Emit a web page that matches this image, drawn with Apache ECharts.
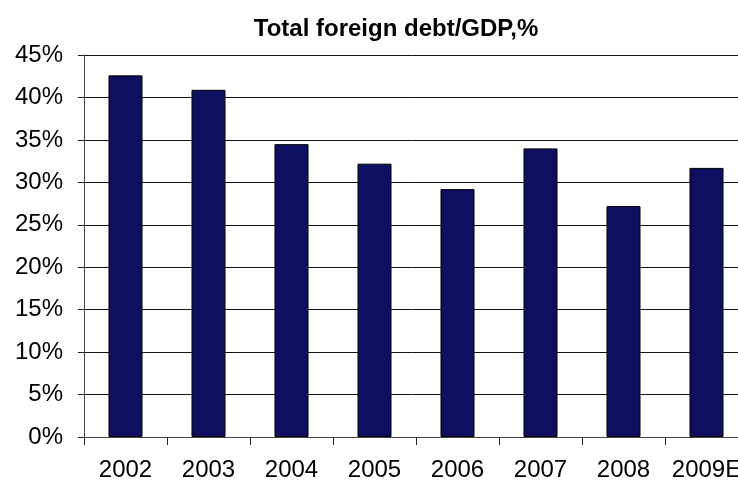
<!DOCTYPE html>
<html>
<head>
<meta charset="utf-8">
<script src="https://cdn.jsdelivr.net/npm/echarts@6/dist/echarts.min.js"></script>
<style>
  html, body { margin: 0; padding: 0; background: #fff; }
  #chart { width: 738px; height: 488px; }
</style>
</head>
<body>
<div id="chart"></div>
<script>
// Total foreign debt as a share of GDP, by year
const years = ['2002', '2003', '2004', '2005', '2006', '2007', '2008', '2009E'];
const debtToGdp = [42.6, 40.9, 34.5, 32.2, 29.2, 34.0, 27.2, 31.7];
const yMin = 0;
const yMax = 45;
const yStep = 5;

const font = '"Liberation Sans", Arial, sans-serif';

const chart = echarts.init(document.getElementById('chart'), null, { renderer: 'canvas' });

chart.setOption({
  animation: false,
  backgroundColor: '#ffffff',
  title: {
    text: 'Total foreign debt/GDP,%',
    left: 391,
    top: 12,
    textAlign: 'center',
    textStyle: {
      fontFamily: font,
      fontSize: 24,
      fontWeight: 'bold',
      color: '#000'
    }
  },
  // the plot runs a little past the right edge of the page, clipping the last label
  grid: {
    left: 84,
    top: 55,
    width: 664,
    bottom: 51,
    containLabel: false,
    outerBoundsMode: 'none'
  },
  xAxis: {
    type: 'category',
    data: years,
    boundaryGap: true,
    axisLine: { show: true, lineStyle: { color: '#444', width: 1 } },
    axisTick: { show: true, length: 8, alignWithLabel: false, lineStyle: { color: '#222', width: 1 } },
    axisLabel: {
      show: true,
      interval: 0,
      margin: 21,
      fontFamily: font,
      fontSize: 24,
      color: '#000'
    },
    splitLine: { show: false }
  },
  yAxis: {
    type: 'value',
    min: yMin,
    max: yMax,
    interval: yStep,
    axisLine: { show: true, lineStyle: { color: '#444', width: 1 } },
    axisTick: { show: true, length: 6, lineStyle: { color: '#222', width: 1 } },
    axisLabel: {
      margin: 21,
      fontFamily: font,
      fontSize: 24,
      color: '#000',
      formatter: '{value}%'
    },
    splitLine: { show: true, lineStyle: { color: '#111', width: 1 } }
  },
  series: [{
    type: 'bar',
    data: debtToGdp,
    barWidth: '41%',
    itemStyle: {
      color: '#0f0f62',
      borderColor: '#000',
      borderWidth: 1
    }
  }]
});
</script>
</body>
</html>
